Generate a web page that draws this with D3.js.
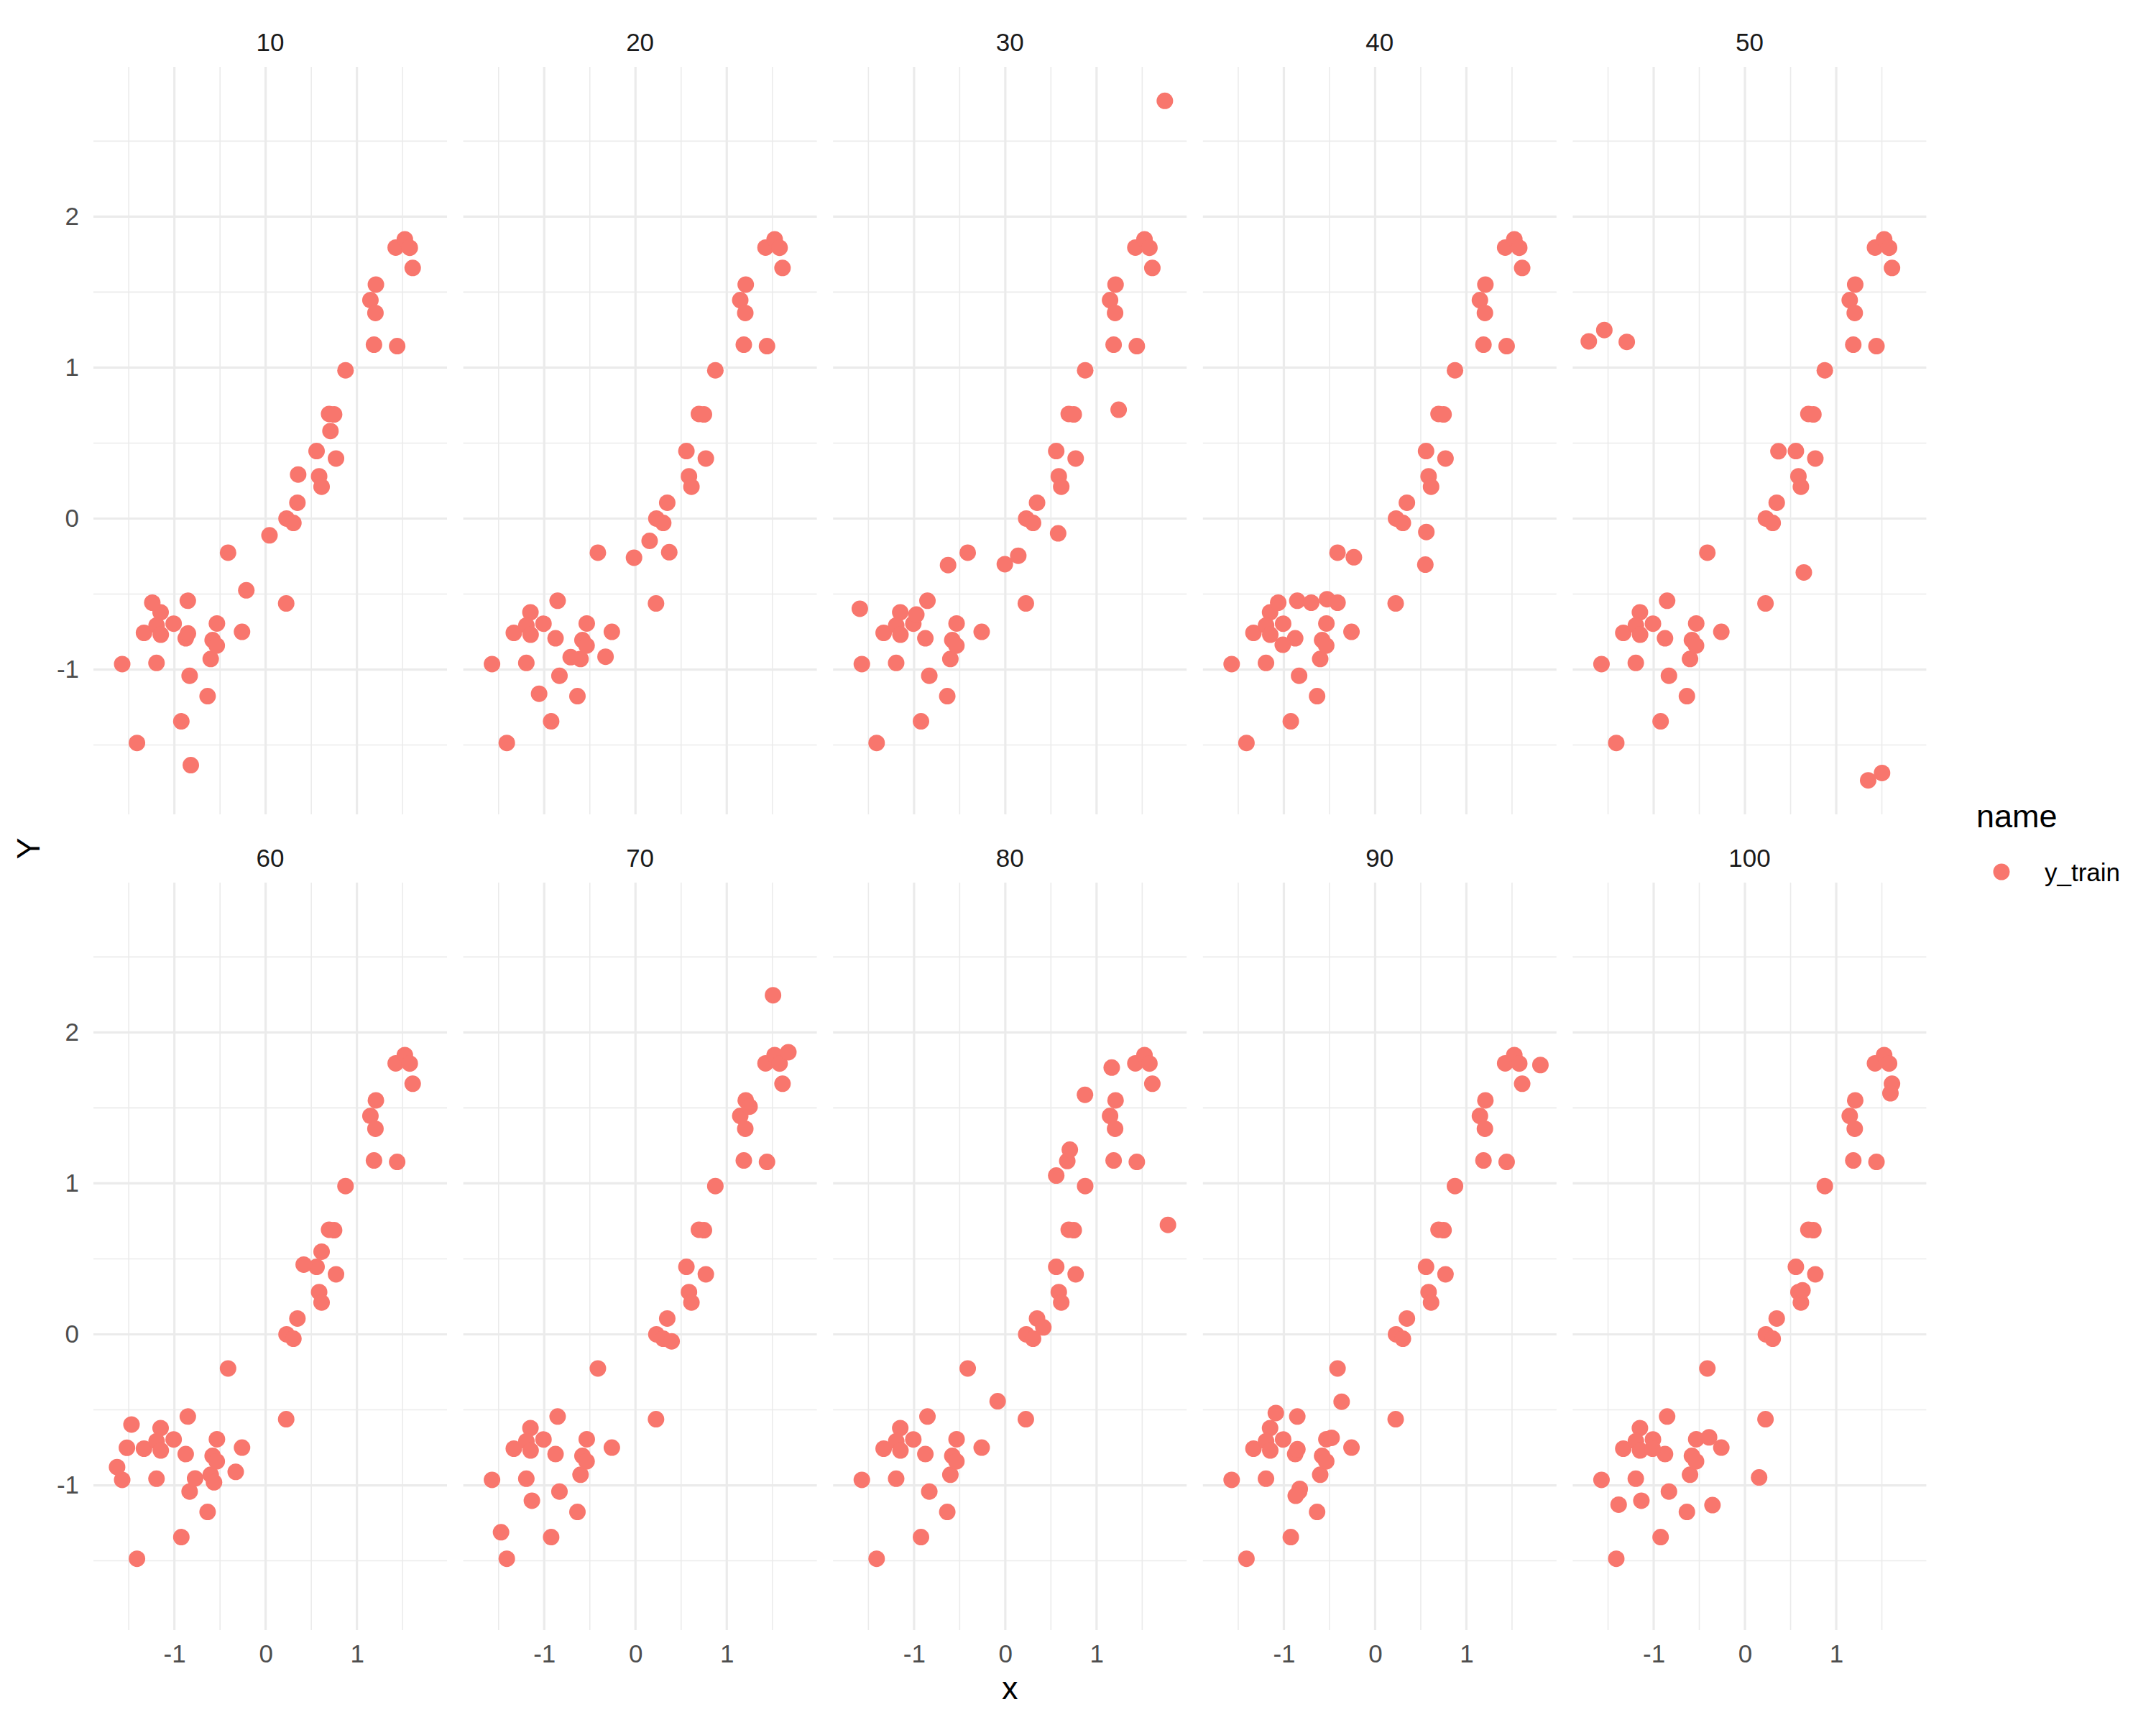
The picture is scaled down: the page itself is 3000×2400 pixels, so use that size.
<!DOCTYPE html>
<html><head><meta charset="utf-8">
<script src="https://cdn.jsdelivr.net/npm/d3@7"></script>
<style>body{margin:0;background:#fff} svg{display:block}</style>
</head><body><svg id="chart" width="3000" height="2400"></svg>
<script>
// ---- data ----
const panelLabels = ["10","20","30","40","50","60","70","80","90","100"];
// points shared by every panel
const basePoints = [
  [-1.572,-0.964],[-1.410,-1.486],[-1.333,-0.757],[-1.151,-0.621],[-1.195,-0.708],
  [-1.149,-0.769],[-1.008,-0.696],[-1.196,-0.956],[-0.924,-1.343],[-0.853,-0.544],
  [-0.876,-0.793],[-0.833,-1.041],[-0.636,-1.176],[-0.602,-0.930],[-0.534,-0.695],
  [-0.581,-0.805],[-0.536,-0.841],[-0.412,-0.226],[-0.259,-0.750],[0.225,-0.562],
  [0.229,0.000],[0.304,-0.029],[0.348,0.105],[0.558,0.447],[0.586,0.280],
  [0.613,0.211],[0.695,0.693],[0.750,0.690],[0.771,0.398],[0.875,0.982],
  [1.148,1.447],[1.208,1.550],[1.203,1.362],[1.187,1.152],[1.441,1.142],
  [1.425,1.795],[1.525,1.850],[1.579,1.794],[1.611,1.660]
];
// points specific to each panel
const extra10 = [[-1.242,-0.557],[-0.852,-0.761],[-0.820,-1.633],[-0.212,-0.475],[0.042,-0.111],[0.356,0.292],[0.710,0.580]];
const extra20 = [[-1.056,-1.160],[-0.710,-0.918],[-0.328,-0.915],[-0.016,-0.259],[0.155,-0.148],[0.370,-0.223]];
const extra30 = [[-1.594,-0.597],[-0.975,-0.636],[-0.627,-0.308],[-0.005,-0.302],[0.142,-0.246],[0.579,-0.098],[1.242,0.721],[1.748,2.767]];
const extra40 = [[-1.062,-0.557],[-1.012,-0.836],[-0.700,-0.557],[-0.527,-0.534],[-0.412,-0.557],[-0.233,-0.256],[0.561,-0.089],[0.550,-0.305]];
const extra50 = [[-1.711,1.174],[-1.541,1.249],[-1.295,1.170],[0.367,0.446],[0.645,-0.357],[1.350,-1.734],[1.502,-1.685]];
const extra60 = [[-1.470,-0.597],[-1.520,-0.751],[-1.628,-0.879],[-0.773,-0.954],[-0.566,-0.980],[-0.328,-0.911],[0.417,0.462],[0.613,0.548]];
const extra70 = [[-1.473,-1.311],[-1.135,-1.102],[0.396,-0.046],[1.250,1.508],[1.675,1.869],[1.507,2.246]];
const extra80 = [[-0.084,-0.443],[0.417,0.046],[0.558,1.052],[0.679,1.148],[0.707,1.223],[0.873,1.587],[1.166,1.767],[1.782,0.725]];
const extra90 = [[-1.088,-0.521],[-0.852,-0.761],[-0.826,-1.023],[-0.870,-1.069],[-0.477,-0.685],[-0.367,-0.446],[1.811,1.784]];
const extra100 = [[-1.384,-1.128],[-1.012,-0.757],[-1.135,-1.102],[-0.393,-0.682],[-0.356,-1.131],[0.155,-0.948],[0.630,0.292],[1.594,1.597]];
const extras = [extra10,extra20,extra30,extra40,extra50,extra60,extra70,extra80,extra90,extra100];

const xTicks = [-1,0,1];
const yTicks = [-1,0,1,2];
const xMinor = [-1.5,-0.5,0.5,1.5];
const yMinor = [-1.5,-0.5,0.5,1.5,2.5];
const seriesName = "y_train";
const legendTitle = "name";
const xTitle = "x", yTitle = "Y";

// ---- layout ----
const font = "'Liberation Sans', Arial, Helvetica, sans-serif";
const color = "#F8766D";
const panelW = 492, panelH = 1040, left0 = 130, stepX = 514.6, tops = [93, 1228];
const ptR = 11.5;

const panels = panelLabels.map((lab, i) => ({label: lab, points: basePoints.concat(extras[i])}));
const allPts = panels.flatMap(p => p.points);
const xe = d3.extent(allPts, d => d[0]), ye = d3.extent(allPts, d => d[1]);
const dx = xe[1]-xe[0], dy = ye[1]-ye[0];
const x = d3.scaleLinear().domain([xe[0]-0.05*dx, xe[1]+0.05*dx]).range([0, panelW]);
const y = d3.scaleLinear().domain([ye[0]-0.05*dy, ye[1]+0.05*dy]).range([panelH, 0]);

const svg = d3.select("#chart");
svg.append("rect").attr("width",3000).attr("height",2400).attr("fill","#fff");

panels.forEach((p, i) => {
  const col = i % 5, row = Math.floor(i / 5);
  const g = svg.append("g").attr("transform", `translate(${left0 + col*stepX},${tops[row]})`);
  // minor grid
  g.selectAll(".vmin").data(xMinor).join("line")
    .attr("x1", d => x(d)).attr("x2", d => x(d)).attr("y1", 0).attr("y2", panelH)
    .attr("stroke", "#EBEBEB").attr("stroke-width", 1.6);
  g.selectAll(".hmin").data(yMinor).join("line")
    .attr("y1", d => y(d)).attr("y2", d => y(d)).attr("x1", 0).attr("x2", panelW)
    .attr("stroke", "#EBEBEB").attr("stroke-width", 1.6);
  // major grid
  g.selectAll(".vmaj").data(xTicks).join("line")
    .attr("x1", d => x(d)).attr("x2", d => x(d)).attr("y1", 0).attr("y2", panelH)
    .attr("stroke", "#EBEBEB").attr("stroke-width", 3.2);
  g.selectAll(".hmaj").data(yTicks).join("line")
    .attr("y1", d => y(d)).attr("y2", d => y(d)).attr("x1", 0).attr("x2", panelW)
    .attr("stroke", "#EBEBEB").attr("stroke-width", 3.2);
  // points
  g.selectAll("circle").data(p.points).join("circle")
    .attr("cx", d => x(d[0])).attr("cy", d => y(d[1])).attr("r", ptR).attr("fill", color);
  // strip label
  g.append("text").attr("x", panelW/2).attr("y", -22).attr("text-anchor", "middle")
    .attr("font-family", font).attr("font-size", 35).attr("fill", "#1A1A1A").text(p.label);
  // axes
  if (col === 0) {
    const ax = g.append("g").call(d3.axisLeft(y).tickValues(yTicks).tickSize(0).tickPadding(20).tickFormat(d => String(d)));
    ax.select(".domain").remove();
    ax.selectAll("text").attr("font-family", font).attr("font-size", 35).attr("fill", "#4D4D4D");
  }
  if (row === 1) {
    const ax = g.append("g").attr("transform", `translate(0,${panelH})`)
      .call(d3.axisBottom(x).tickValues(xTicks).tickSize(0).tickPadding(20).tickFormat(d => String(d)));
    ax.select(".domain").remove();
    ax.selectAll("text").attr("font-family", font).attr("font-size", 35).attr("fill", "#4D4D4D");
  }
});

// axis titles
const plotCenterX = left0 + (4*stepX + panelW)/2;
svg.append("text").attr("x", plotCenterX).attr("y", 2364).attr("text-anchor", "middle")
  .attr("font-family", font).attr("font-size", 45).attr("fill", "#000").text(xTitle);
svg.append("text").attr("transform", `translate(55,${(tops[0] + tops[1] + panelH)/2}) rotate(-90)`)
  .attr("text-anchor", "middle").attr("font-family", font).attr("font-size", 45).attr("fill", "#000").text(yTitle);

// legend
svg.append("text").attr("x", 2750).attr("y", 1151).attr("font-family", font).attr("font-size", 45)
  .attr("fill", "#000").text(legendTitle);
svg.append("circle").attr("cx", 2785).attr("cy", 1213).attr("r", ptR).attr("fill", color);
svg.append("text").attr("x", 2845).attr("y", 1226).attr("font-family", font).attr("font-size", 35)
  .attr("fill", "#000").text(seriesName);
</script>
</body></html>
